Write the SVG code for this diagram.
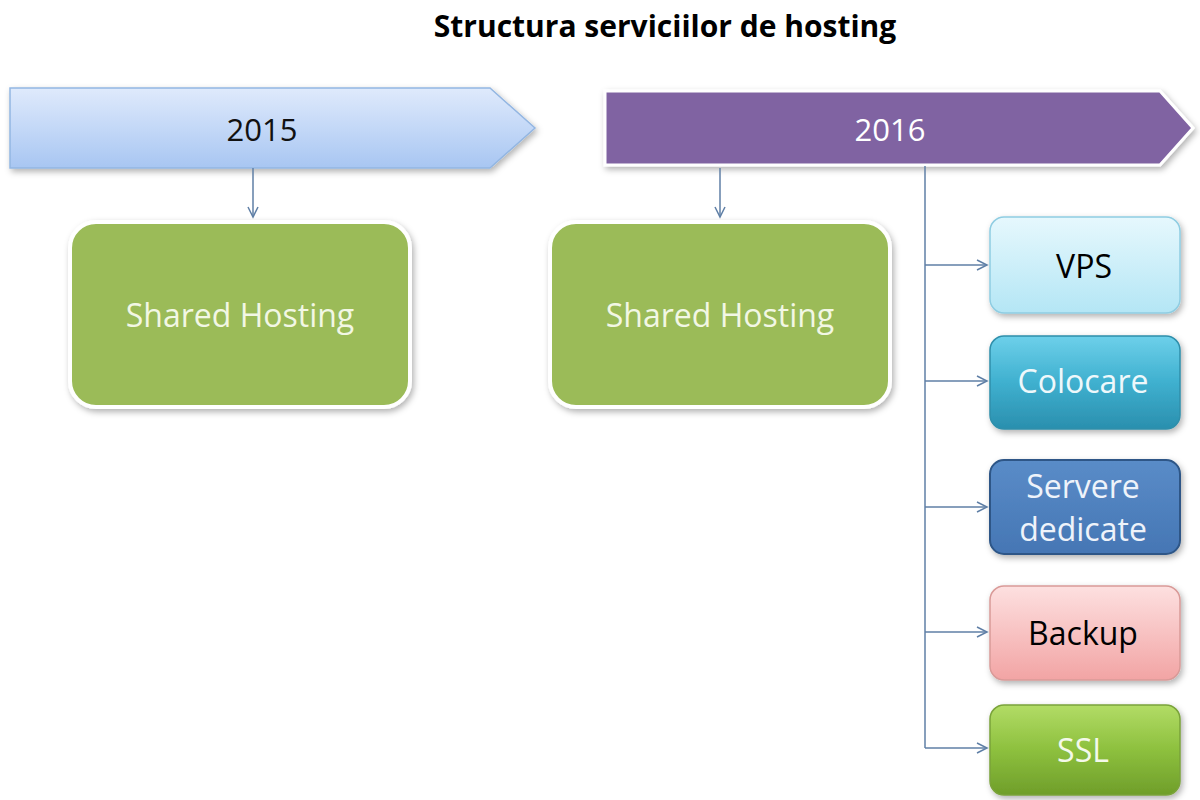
<svg xmlns="http://www.w3.org/2000/svg" width="1200" height="800" viewBox="0 0 1200 800">
<defs>
<linearGradient id="gBlue" x1="0" y1="0" x2="0" y2="1"><stop offset="0" stop-color="#dfeafc"/><stop offset="1" stop-color="#a8c6f2"/></linearGradient>
<linearGradient id="gVps" x1="0" y1="0" x2="0" y2="1"><stop offset="0" stop-color="#e6f8fd"/><stop offset="1" stop-color="#b4e6f5"/></linearGradient>
<linearGradient id="gColo" x1="0" y1="0" x2="0" y2="1"><stop offset="0" stop-color="#6dd0ea"/><stop offset="0.5" stop-color="#3fb0cf"/><stop offset="1" stop-color="#2a8fae"/></linearGradient>
<linearGradient id="gServ" x1="0" y1="0" x2="0" y2="1"><stop offset="0" stop-color="#5a8cc8"/><stop offset="1" stop-color="#4576b4"/></linearGradient>
<linearGradient id="gBack" x1="0" y1="0" x2="0" y2="1"><stop offset="0" stop-color="#fde0e0"/><stop offset="1" stop-color="#f2a4a4"/></linearGradient>
<linearGradient id="gSsl" x1="0" y1="0" x2="0" y2="1"><stop offset="0" stop-color="#b2dc66"/><stop offset="0.5" stop-color="#8dc03e"/><stop offset="1" stop-color="#6f9e2a"/></linearGradient>
<filter id="sh" x="-10%" y="-10%" width="125%" height="130%"><feDropShadow dx="2" dy="3" stdDeviation="3" flood-color="#000" flood-opacity="0.3"/></filter>
<marker id="ar" markerWidth="14" markerHeight="14" refX="11" refY="6" orient="auto" markerUnits="userSpaceOnUse"><path d="M1,1 L11,6 L1,11" fill="none" stroke="#5f7fa6" stroke-width="1.5"/></marker>
</defs>
<style>
text{font-family:"Open Sans","Noto Sans","Liberation Sans",sans-serif;text-anchor:middle;dominant-baseline:central}
.t{font-weight:bold;font-size:30px;fill:#000}
.yr{font-size:31px}
.sh{font-size:32px;fill:#f2f7e4}
.sm{font-size:32px}
.conn{fill:none;stroke:#5f7fa6;stroke-width:1.5}
</style>
<text class="t" x="665" y="25">Structura serviciilor de hosting</text>
<g id="y2015"><path d="M10,88 H490 L535,128 L490,168 H10 Z" fill="url(#gBlue)" stroke="#93b6e2" stroke-width="1.5" filter="url(#sh)"/><text class="yr" x="262" y="129" fill="#111">2015</text></g>
<g id="y2016"><path d="M605,91 H1160 L1193,128 L1160,165 H605 Z" fill="#8064a2" stroke="#fff" stroke-width="3" filter="url(#sh)"/><text class="yr" x="890" y="129" fill="#fff">2016</text></g>
<g id="sh2015"><rect x="70" y="222" width="340" height="185" rx="26" fill="#9bbb59" stroke="#fff" stroke-width="4" filter="url(#sh)"/><text class="sh" x="240" y="314">Shared Hosting</text></g>
<g id="sh2016"><rect x="550" y="222" width="340" height="185" rx="26" fill="#9bbb59" stroke="#fff" stroke-width="4" filter="url(#sh)"/><text class="sh" x="720" y="314">Shared Hosting</text></g>
<g id="vps"><rect x="990" y="217" width="190" height="96" rx="14" fill="url(#gVps)" stroke="#8fcde2" stroke-width="1.5" filter="url(#sh)"/><text class="sm" x="1084" y="265" fill="#000">VPS</text></g>
<g id="colocare"><rect x="990" y="336" width="190" height="93" rx="14" fill="url(#gColo)" stroke="#2f8fab" stroke-width="1.5" filter="url(#sh)"/><text class="sm" x="1083" y="380" fill="#eef8fb">Colocare</text></g>
<g id="servere"><rect x="990" y="460" width="190" height="94" rx="14" fill="url(#gServ)" stroke="#2d5687" stroke-width="2" filter="url(#sh)"/><text class="sm" x="1083" y="485" fill="#eef3fa">Servere</text><text class="sm" x="1083" y="528" fill="#eef3fa">dedicate</text></g>
<g id="backup"><rect x="990" y="586" width="190" height="94" rx="14" fill="url(#gBack)" stroke="#d99a98" stroke-width="1.5" filter="url(#sh)"/><text class="sm" x="1083" y="632" fill="#000">Backup</text></g>
<g id="ssl"><rect x="990" y="705" width="190" height="90" rx="14" fill="url(#gSsl)" stroke="#7aa33a" stroke-width="1.5" filter="url(#sh)"/><text class="sm" x="1083" y="749" fill="#f4f9ea">SSL</text></g>
<g id="connectors">
<path class="conn" d="M253,168 V217" marker-end="url(#ar)"/>
<path class="conn" d="M720,168 V217" marker-end="url(#ar)"/>
<path class="conn" d="M925,166 V748"/>
<path class="conn" d="M925,265 H987" marker-end="url(#ar)"/>
<path class="conn" d="M925,381 H987" marker-end="url(#ar)"/>
<path class="conn" d="M925,507 H987" marker-end="url(#ar)"/>
<path class="conn" d="M925,632 H987" marker-end="url(#ar)"/>
<path class="conn" d="M925,748 H987" marker-end="url(#ar)"/>
</g>
</svg>
